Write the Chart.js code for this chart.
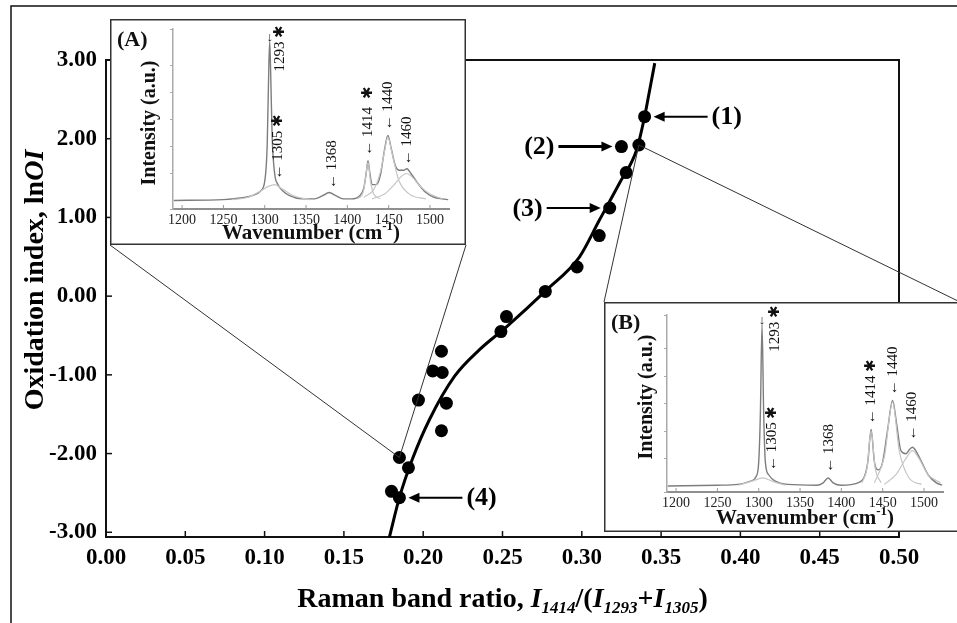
<!DOCTYPE html>
<html>
<head>
<meta charset="utf-8">
<script src="https://cdn.jsdelivr.net/npm/chart.js@4.4.0/dist/chart.umd.min.js"></script>
<style>
  html, body { margin: 0; padding: 0; background: #fff; overflow: hidden; }
  #wrap { position: relative; width: 957px; height: 623px; overflow: hidden; }
  #main { position: absolute; left: 0; top: 0; }
  .inset { position: absolute; background: #fff; }
  #insetA { left: 110px; top: 19px; }
  #insetB { left: 604px; top: 302px; }
</style>
</head>
<body>
<div id="wrap">
  <canvas id="main" width="957" height="623"></canvas>
  <canvas id="insetA" class="inset" width="356" height="226"></canvas>
  <canvas id="insetB" class="inset" width="356" height="230"></canvas>
</div>
<script>
// main plot: measured points
const ratio = [0.3396, 0.336, 0.325, 0.328, 0.3176, 0.311, 0.297, 0.277, 0.2525, 0.249,
               0.2115, 0.206, 0.212, 0.197, 0.2146, 0.2115, 0.185, 0.1907, 0.180, 0.185];
const lnOI = [2.28, 1.92, 1.90, 1.57, 1.12, 0.77, 0.37, 0.06, -0.26, -0.45,
              -0.70, -0.95, -0.97, -1.32, -1.36, -1.71, -2.05, -2.18, -2.48, -2.56];

// fitted curve
const fitRatio = [0.1787, 0.185, 0.1932, 0.2039, 0.2197, 0.2355, 0.2525, 0.2778, 0.2986, 0.3112, 0.3239, 0.3346, 0.3396, 0.3428, 0.346];
const fitLnOI = [-3.06, -2.56, -2.07, -1.57, -1.02, -0.68, -0.39, 0.08, 0.50, 0.97, 1.44, 1.86, 2.28, 2.62, 2.96];

const xTicks = [0, 0.05, 0.10, 0.15, 0.20, 0.25, 0.30, 0.35, 0.40, 0.45, 0.50];
const yTicks = [-3, -2, -1, 0, 1, 2, 3];

// numbered arrows
const arrowLabels = ['(1)', '(2)', '(3)', '(4)'];
const arrowTarget = [0, 2, 4, 19];
const arrowSide = ['right', 'left', 'left', 'right'];

// points that the insets zoom on
const insetAPoint = 16;
const insetBPoint = 1;

// inset spectra (wavenumber, intensity)
const insetTicks = [1200, 1250, 1300, 1350, 1400, 1450, 1500];

const specA_w = [1190, 1250, 1270, 1285, 1295, 1300, 1303, 1305, 1306, 1307, 1309, 1312, 1316, 1322, 1330, 1345, 1360, 1370, 1378, 1386, 1395, 1405, 1415, 1420, 1423, 1425, 1427, 1430, 1435, 1440, 1445, 1449, 1453, 1458, 1463, 1468, 1472, 1477, 1485, 1495, 1505, 1515, 1522];
const specA_v = [0.0, 0.005, 0.015, 0.03, 0.06, 0.12, 0.35, 0.85, 1.0, 0.85, 0.40, 0.17, 0.10, 0.06, 0.03, 0.01, 0.01, 0.03, 0.05, 0.03, 0.01, 0.01, 0.03, 0.08, 0.18, 0.25, 0.18, 0.10, 0.10, 0.16, 0.32, 0.41, 0.33, 0.22, 0.19, 0.19, 0.20, 0.17, 0.11, 0.05, 0.02, 0.01, 0.005];
const compA1305_w = [1260, 1280, 1295, 1305, 1312, 1322, 1335, 1355];
const compA1305_v = [0.005, 0.02, 0.06, 0.09, 0.10, 0.07, 0.03, 0.005];
const compA1440_w = [1420, 1432, 1440, 1445, 1449, 1454, 1462, 1475, 1495];
const compA1440_v = [0.02, 0.07, 0.18, 0.31, 0.40, 0.30, 0.13, 0.04, 0.01];
const compA1460_w = [1430, 1445, 1455, 1465, 1471, 1478, 1488, 1500, 1515];
const compA1460_v = [0.01, 0.04, 0.09, 0.15, 0.17, 0.15, 0.09, 0.04, 0.01];
const compA1414_w = [1412, 1419, 1422, 1425, 1428, 1432, 1440];
const compA1414_v = [0.01, 0.05, 0.14, 0.24, 0.12, 0.04, 0.01];

const specB_w = [1190, 1250, 1275, 1290, 1297, 1300, 1302, 1304, 1306, 1308, 1312, 1320, 1335, 1370, 1378, 1384, 1390, 1400, 1420, 1428, 1432, 1436, 1440, 1445, 1450, 1456, 1462, 1467, 1472, 1478, 1483, 1486, 1490, 1497, 1505, 1515, 1522];
const specB_v = [0.0, 0.005, 0.01, 0.03, 0.06, 0.15, 0.45, 1.0, 0.45, 0.15, 0.07, 0.03, 0.01, 0.005, 0.02, 0.05, 0.02, 0.005, 0.02, 0.06, 0.15, 0.35, 0.15, 0.10, 0.15, 0.35, 0.53, 0.38, 0.22, 0.20, 0.23, 0.24, 0.22, 0.15, 0.07, 0.02, 0.005];
const compB1305_w = [1275, 1292, 1305, 1316, 1332];
const compB1305_v = [0.005, 0.03, 0.05, 0.03, 0.005];
const compB1414_w = [1425, 1431, 1436, 1441, 1448];
const compB1414_v = [0.02, 0.11, 0.34, 0.11, 0.02];
const compB1440_w = [1440, 1452, 1462, 1470, 1482, 1497];
const compB1440_v = [0.02, 0.18, 0.52, 0.22, 0.05, 0.01];
const compB1460_w = [1452, 1466, 1478, 1486, 1494, 1505, 1520];
const compB1460_v = [0.01, 0.07, 0.17, 0.22, 0.17, 0.07, 0.02];

// peak labels (tip of the arrow sits at w, v)
const labA_text = ['\u2190 1305 \u2731', '\u2190 1368', '\u2190 1414  \u2731', '\u2190 1440', '\u2190 1460', '1293 \u2731'];
const labA_w = [1316, 1381, 1425, 1449, 1472, 1319];
const labA_v = [0.12, 0.06, 0.27, 0.43, 0.21, 0.80];
const labB_text = ['\u2190 1305 \u2731', '\u2190 1368', '\u2190 1414 \u2731', '\u2190 1440', '\u2190 1460', '1293 \u2731'];
const labB_w = [1316, 1385, 1436, 1462, 1486, 1320];
const labB_v = [0.08, 0.07, 0.37, 0.55, 0.27, 0.82];

const SERIF = "'Liberation Serif', 'Times New Roman', serif";
Chart.defaults.font.family = SERIF;
Chart.defaults.color = '#000';

function toXY(xs, ys) {
  return xs.map((v, i) => ({ x: v, y: ys[i] }));
}

function line(ctx, x1, y1, x2, y2) {
  ctx.beginPath(); ctx.moveTo(x1, y1); ctx.lineTo(x2, y2); ctx.stroke();
}

// draws text made of several runs (different fonts / sub offsets), centred at cx
function drawRuns(ctx, runs, cx, cy) {
  let total = 0;
  runs.forEach(r => { ctx.font = r.f; total += ctx.measureText(r.t).width; });
  let x = cx - total / 2;
  ctx.textAlign = 'left';
  ctx.textBaseline = 'alphabetic';
  runs.forEach(r => {
    ctx.font = r.f;
    ctx.fillText(r.t, x, cy + (r.dy || 0));
    x += ctx.measureText(r.t).width;
  });
}

const mainDecor = {
  id: 'mainDecor',
  afterDraw(chart) {
    const { ctx, chartArea: a, scales: { x, y } } = chart;
    ctx.save();
    ctx.strokeStyle = '#111';
    ctx.fillStyle = '#000';

    // outer frame of the figure
    ctx.lineWidth = 1.5;
    ctx.beginPath(); ctx.moveTo(11, 623); ctx.lineTo(11, 6); ctx.lineTo(957, 6); ctx.stroke();

    // top and right border of the plot
    ctx.lineWidth = 2;
    ctx.beginPath(); ctx.moveTo(a.left, a.top); ctx.lineTo(a.right, a.top); ctx.lineTo(a.right, a.bottom); ctx.stroke();

    // inward ticks
    ctx.lineWidth = 1.5;
    xTicks.forEach(v => { const px = x.getPixelForValue(v); line(ctx, px, a.bottom, px, a.bottom - 6); });
    yTicks.forEach(v => { const py = y.getPixelForValue(v); line(ctx, a.left, py, a.left + 6, py); });

    // lines from points to the insets
    const elA = document.getElementById('insetA');
    const elB = document.getElementById('insetB');
    ctx.lineWidth = 1;
    ctx.strokeStyle = '#333';
    const pa = { x: x.getPixelForValue(ratio[insetAPoint]), y: y.getPixelForValue(lnOI[insetAPoint]) };
    const aBottom = elA.offsetTop + elA.height;
    line(ctx, pa.x, pa.y, elA.offsetLeft, aBottom);
    line(ctx, pa.x, pa.y, elA.offsetLeft + elA.width, aBottom);
    const pb = { x: x.getPixelForValue(ratio[insetBPoint]), y: y.getPixelForValue(lnOI[insetBPoint]) };
    line(ctx, pb.x, pb.y, elB.offsetLeft, elB.offsetTop);
    line(ctx, pb.x, pb.y, elB.offsetLeft + elB.width, elB.offsetTop);

    // numbered arrows
    ctx.strokeStyle = '#000';
    arrowTarget.forEach((idx, i) => {
      const px = x.getPixelForValue(ratio[idx]);
      const py = y.getPixelForValue(lnOI[idx]);
      const dir = arrowSide[i] === 'right' ? 1 : -1;
      const tip = px + dir * 9;
      const tail = tip + dir * 54;
      ctx.lineWidth = i === 1 ? 3 : 2;
      line(ctx, tail, py, tip + dir * 8, py);
      ctx.beginPath();
      ctx.moveTo(tip, py);
      ctx.lineTo(tip + dir * 11, py - 5);
      ctx.lineTo(tip + dir * 11, py + 5);
      ctx.closePath();
      ctx.fill();
      ctx.font = 'bold 26px ' + SERIF;
      ctx.textAlign = dir > 0 ? 'left' : 'right';
      ctx.textBaseline = 'middle';
      ctx.fillText(arrowLabels[i], tail + dir * 4, py + 1);
    });

    // axis titles
    const big = 'bold 28px ' + SERIF;
    const bigIt = 'italic bold 28px ' + SERIF;
    const sub = 'italic bold 17px ' + SERIF;
    drawRuns(ctx, [
      { t: 'Raman band ratio, ', f: big },
      { t: 'I', f: bigIt }, { t: '1414', f: sub, dy: 6 },
      { t: '/(', f: big },
      { t: 'I', f: bigIt }, { t: '1293', f: sub, dy: 6 },
      { t: '+', f: big },
      { t: 'I', f: bigIt }, { t: '1305', f: sub, dy: 6 },
      { t: ')', f: big }
    ], (a.left + a.right) / 2, 607);

    ctx.save();
    ctx.translate(43, 280);
    ctx.rotate(-Math.PI / 2);
    drawRuns(ctx, [
      { t: 'Oxidation index, ln', f: big },
      { t: 'OI', f: bigIt }
    ], 0, 0);
    ctx.restore();

    ctx.restore();
  }
};

new Chart(document.getElementById('main'), {
  type: 'line',
  data: {
    datasets: [
      {
        data: toXY(ratio, lnOI),
        showLine: false,
        pointRadius: 6.5,
        pointBackgroundColor: '#000',
        pointBorderColor: '#000',
        pointBorderWidth: 0
      },
      {
        data: toXY(fitRatio, fitLnOI),
        borderColor: '#000',
        borderWidth: 3,
        pointRadius: 0,
        cubicInterpolationMode: 'monotone'
      }
    ]
  },
  options: {
    responsive: false,
    animation: false,
    layout: { padding: { left: 0, top: 60, right: 58, bottom: 0 } },
    plugins: { legend: { display: false }, tooltip: { enabled: false } },
    scales: {
      x: {
        type: 'linear',
        min: 0, max: 0.5,
        afterBuildTicks: s => { s.ticks = xTicks.map(v => ({ value: v })); },
        afterFit: s => { s.height = 86; },
        grid: { display: false, drawTicks: false },
        border: { color: '#111', width: 2 },
        ticks: { font: { size: 23, weight: 'bold' }, padding: 7, maxRotation: 0, autoSkip: false,
                 callback: v => v.toFixed(2) }
      },
      y: {
        min: -3.06, max: 3.0,
        afterBuildTicks: s => { s.ticks = yTicks.map(v => ({ value: v })); },
        afterFit: s => { s.width = 106; },
        grid: { display: false, drawTicks: false },
        border: { color: '#111', width: 2 },
        ticks: { font: { size: 23, weight: 'bold' }, padding: 9, callback: v => v.toFixed(2) }
      }
    }
  },
  plugins: [mainDecor]
});

function insetDecor(cfg) {
  return {
    id: 'insetDecor',
    afterDraw(chart) {
      const { ctx, chartArea: a, scales: { x, y }, width, height } = chart;
      ctx.save();
      ctx.strokeStyle = '#333';
      ctx.lineWidth = 1.5;
      ctx.strokeRect(0.75, 0.75, width - 1.5, height - 1.5);

      ctx.fillStyle = '#111';
      ctx.font = 'bold 22px ' + SERIF;
      ctx.textAlign = 'left';
      ctx.textBaseline = 'alphabetic';
      ctx.fillText(cfg.tag, 7, 27);

      // y title
      ctx.save();
      ctx.translate(cfg.yTitleX, cfg.yTitleY);
      ctx.rotate(-Math.PI / 2);
      ctx.font = 'bold 20px ' + SERIF;
      ctx.textAlign = 'center';
      ctx.textBaseline = 'middle';
      ctx.fillText('Intensity (a.u.)', 0, 0);
      ctx.restore();

      // x title with superscript
      const f1 = 'bold 21px ' + SERIF;
      const f2 = 'bold 13px ' + SERIF;
      drawRuns(ctx, [
        { t: 'Wavenumber (cm', f: f1 },
        { t: '-1', f: f2, dy: -9 },
        { t: ')', f: f1 }
      ], (a.left + a.right) / 2, cfg.xTitleY);

      // peak labels
      ctx.font = '15px ' + SERIF;
      cfg.labText.forEach((t, i) => {
        const px = x.getPixelForValue(cfg.labW[i]);
        const py = y.getPixelForValue(cfg.labV[i]) - 2;
        ctx.save();
        ctx.translate(px, py);
        ctx.rotate(-Math.PI / 2);
        ctx.textAlign = 'left';
        ctx.textBaseline = 'middle';
        ctx.fillText(t, 0, 0);
        ctx.restore();
      });

      // small arrow above the strongest peak
      let im = 0;
      cfg.envV.forEach((v, i) => { if (v > cfg.envV[im]) im = i; });
      ctx.font = '13px ' + SERIF;
      ctx.textAlign = 'center';
      ctx.textBaseline = 'bottom';
      ctx.fillText('\u2193', x.getPixelForValue(cfg.envW[im]), y.getPixelForValue(cfg.envV[im]) + 2);

      // small ticks along the x axis
      ctx.strokeStyle = '#999';
      ctx.lineWidth = 1;
      for (let k = 0; k < insetTicks.length; k++) {
        const px = x.getPixelForValue(insetTicks[k]);
        line(ctx, px, a.bottom - 1, px, a.bottom - 4);
      }
      ctx.restore();
    }
  };
}

function makeInset(id, envW, envV, comps, cfg) {
  const datasets = comps.map(c => ({
    data: toXY(c[0], c[1]),
    borderColor: '#c6c6c6',
    borderWidth: 1.2,
    pointRadius: 0,
    cubicInterpolationMode: 'monotone'
  }));
  datasets.push({
    data: toXY(envW, envV),
    borderColor: '#7d7d7d',
    borderWidth: 1.4,
    pointRadius: 0,
    cubicInterpolationMode: 'monotone'
  });
  cfg.envW = envW;
  cfg.envV = envV;
  const canvas = document.getElementById(id);
  new Chart(canvas, {
    type: 'line',
    data: { datasets },
    options: {
      responsive: false,
      animation: false,
      layout: { padding: { left: 0, right: 17, top: cfg.top, bottom: 0 } },
      plugins: { legend: { display: false }, tooltip: { enabled: false } },
      scales: {
        x: {
          type: 'linear', min: 1189, max: 1523,
          afterBuildTicks: s => { s.ticks = insetTicks.map(v => ({ value: v })); },
          afterFit: s => { s.height = canvas.height - 190; },
          grid: { display: false, drawTicks: false },
          border: { color: '#8f8f8f', width: 2 },
          ticks: { font: { size: 14 }, color: '#222', padding: 3, maxRotation: 0, autoSkip: false,
                   callback: v => String(v) }
        },
        y: {
          min: cfg.yMin, max: cfg.yMax,
          afterFit: s => { s.width = 63; },
          grid: { drawOnChartArea: false, tickLength: 3, color: '#aaa' },
          border: { color: '#aaa', width: 1.5 },
          ticks: { stepSize: 0.17, callback: () => '' }
        }
      }
    },
    plugins: [insetDecor(cfg)]
  });
}

makeInset('insetA', specA_w, specA_v,
  [[compA1305_w, compA1305_v], [compA1440_w, compA1440_v], [compA1460_w, compA1460_v], [compA1414_w, compA1414_v]],
  { tag: '(A)', top: 1, yMin: -0.054, yMax: 1.08, yTitleX: 40, yTitleY: 104, xTitleY: 220,
    labText: labA_text, labW: labA_w, labV: labA_v });

makeInset('insetB', specB_w, specB_v,
  [[compB1305_w, compB1305_v], [compB1414_w, compB1414_v], [compB1440_w, compB1440_v], [compB1460_w, compB1460_v]],
  { tag: '(B)', top: 13, yMin: -0.037, yMax: 1.06, yTitleX: 43, yTitleY: 95, xTitleY: 222,
    labText: labB_text, labW: labB_w, labV: labB_v });
</script>
</body>
</html>
